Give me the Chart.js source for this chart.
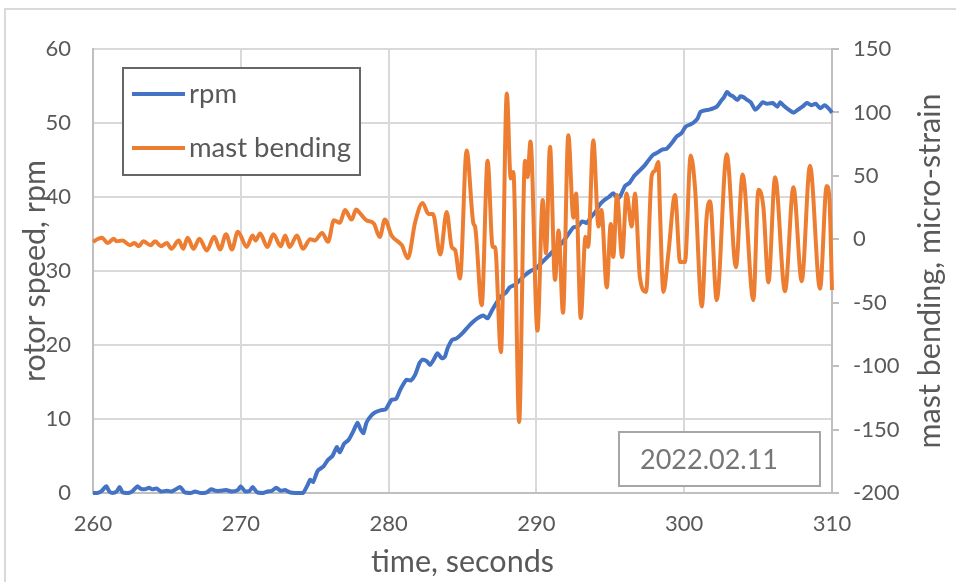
<!DOCTYPE html>
<html><head><meta charset="utf-8">
<script src="https://cdn.jsdelivr.net/npm/chart.js@4.4.1/dist/chart.umd.min.js"></script>
<style>html,body{margin:0;padding:0;background:#fff;overflow:hidden}#wrap{width:956px;height:582px;position:relative}</style>
</head><body><div id="wrap"><canvas id="c" width="956" height="582"></canvas></div>
<script>
// ---- data ----
const seriesNames = ['rpm', 'mast bending'];
const timeTicks = [260, 270, 280, 290, 300, 310];
const rpmTicks = [0, 10, 20, 30, 40, 50, 60];
const strainTicks = [-200, -150, -100, -50, 0, 50, 100, 150];
const dateLabel = '2022.02.11';

const rpmTime = [260,260.3,260.6,260.9,261.1,261.3,261.6,261.8,262,262.4,262.7,263,263.2,263.5,263.8,264,264.3,264.6,265,265.3,265.6,265.9,266.2,266.6,266.9,267.3,267.7,268,268.3,268.6,269,269.4,269.8,270,270.3,270.6,270.8,271.1,271.5,271.8,272.1,272.4,272.7,273,273.3,273.7,274.2,274.5,274.7,274.9,275.2,275.6,275.9,276.2,276.5,276.7,277,277.3,277.6,277.9,278.1,278.3,278.5,278.8,279.1,279.5,279.8,280.2,280.5,280.8,281.2,281.5,281.8,282.1,282.3,282.6,282.8,283.1,283.3,283.6,283.8,284,284.3,284.6,285,285.4,285.7,286,286.4,286.7,287,287.3,287.6,287.9,288.2,288.6,288.9,289.2,289.6,290,290.4,290.8,291.2,291.6,292,292.5,292.8,293.1,293.4,293.7,294,294.3,294.6,294.9,295.2,295.5,295.7,296,296.3,296.6,297,297.3,297.6,297.9,298.2,298.5,298.8,299.2,299.5,299.8,300.1,300.4,300.6,300.9,301.1,301.4,301.7,302,302.2,302.5,302.7,302.9,303.1,303.3,303.6,303.8,304,304.2,304.5,304.8,305,305.3,305.6,306,306.3,306.5,306.7,307,307.4,307.7,308,308.3,308.6,308.9,309.2,309.5,309.8,310];
const rpmValues = [0,0,0.3,0.9,0.2,0,0.2,0.8,0.1,0,0.3,0.9,0.6,0.5,0.7,0.5,0.6,0.2,0.3,0.2,0.5,0.8,0.1,0,0.2,0,0.1,0.5,0.3,0.3,0.4,0.2,0.4,0.9,0.2,0.3,0.8,0.1,0,0.2,0.3,0.7,0.3,0.4,0.1,0,0,1.0,1.8,1.5,3.0,3.6,4.5,5.0,6.2,5.5,6.7,7.2,8.3,9.5,8.6,8.1,9.5,10.4,10.9,11.2,11.3,12.6,12.7,14.0,15.3,15.2,16.0,17.6,18.0,17.8,17.3,18.2,18.9,18.2,18.4,19.6,20.7,20.9,21.6,22.5,23.1,23.6,24.0,23.6,24.7,25.7,26.6,27.0,27.8,28.2,28.8,29.4,30.0,30.4,31.2,32.0,32.8,33.5,34.5,35.9,36.0,36.7,36.5,37.3,38.0,39.0,39.6,40.0,40.5,39.8,40.2,41.5,41.9,42.8,43.6,44.2,45.0,45.7,46.0,46.4,46.5,47.4,48.2,48.6,49.5,49.8,50.0,50.6,51.5,51.7,51.8,52.0,52.2,53.0,53.5,54.2,53.8,53.6,53.1,53.6,53.5,53.2,52.8,51.8,52.1,52.8,52.6,52.7,52.2,52.8,52.4,51.9,51.4,51.8,52.2,52.7,52.4,52.6,52.0,52.4,51.9,51.4];

const strainTime = [260,260.3,260.6,261,261.4,261.6,262,262.5,262.8,263.1,263.4,263.9,264.2,264.6,265,265.3,265.8,266.1,266.4,266.8,267.2,267.7,268.2,268.6,269,269.4,269.8,270.4,270.8,271,271.3,271.8,272.2,272.7,273,273.3,273.8,274.2,274.7,275,275.5,275.9,276.3,276.7,277.05,277.5,277.8,278.1,278.5,279,279.4,279.75,280.2,280.65,280.9,281.3,281.8,282.3,282.7,283,283.5,283.93,284.27,284.5,284.83,285.28,285.74,285.85,286.3,286.7,287.04,287.2,287.6,288,288.26,288.44,288.83,289.23,289.4,289.6,290.07,290.43,290.65,290.92,291.26,291.5,291.8,292.16,292.5,292.68,293,293.32,293.5,293.85,294.2,294.4,294.76,295.03,295.2,295.45,295.8,296.1,296.45,296.67,297,297.42,297.8,298.02,298.25,298.36,298.59,298.93,299.38,299.72,300.05,300.44,300.73,301.19,301.52,301.75,302.2,302.88,303.5,303.95,304.68,305.02,305.36,305.7,306.15,306.82,307.39,307.95,308.51,309.19,309.64,309.82,310];
const strainValues = [-2,0,1.3,-3,0.5,-1.5,-1,-4.7,-3,-5.5,-1.5,-4.7,-1.5,-5.5,-3,-7.5,-1,-7.5,1.3,-7.5,0.5,-8.8,2,-8,4,-8,6,-6,3,-1,4.5,-6,4,-5.5,3,-6,3,-7.5,0,-1,5,-2,15,13,23,15.5,23.4,20,15,12.4,1.8,15.5,3,-2,-4.7,-15,13.6,28.6,20,20,-12,21.5,-6,-8.5,-31,70,12.4,10,-52,62,-6,-6,-89,115,48,53,-144,62,49,77,-72,31,-11,73,-32,7,-58,82,17,36,-62,2,-6,78,10,23,-38,12,-14,35,-14,36,10,36,-30,-41.5,50,54,61,23,-41.5,-11,35,-18,-18,66,41,-53,18,30,-48,67,-22,51,-48,39,25,-34,49,-41,41,-33,58,-39,42,33,-40];

// ---- styling ----
const BLUE = '#4472C4', ORANGE = '#ED7D31';
const TXT = '#595959', GRID = '#d9d9d9', AXIS = '#bfbfbf';
const TITLE_SIZE = 30.5;
Chart.defaults.font.family = 'Lato, Carlito, "Liberation Sans", sans-serif';
Chart.defaults.color = TXT;

const overlay = {
  id: 'overlay',
  beforeDraw(chart) {
    const ctx = chart.ctx;
    ctx.save();
    ctx.fillStyle = '#fff';
    ctx.fillRect(0, 0, chart.width, chart.height);
    ctx.strokeStyle = GRID; ctx.lineWidth = 2;
    ctx.strokeRect(5, 9, chart.width + 20, chart.height + 20);
    ctx.restore();
  },
  afterDraw(chart) {
    const ctx = chart.ctx, a = chart.chartArea;
    ctx.save();
    // right axis title (reads bottom to top)
    ctx.fillStyle = TXT;
    ctx.font = TITLE_SIZE + 'px Lato, Carlito, sans-serif';
    ctx.textAlign = 'center'; ctx.textBaseline = 'middle';
    ctx.translate(a.right + 98, (a.top + a.bottom) / 2);
    ctx.rotate(-Math.PI / 2);
    ctx.fillText('mast bending, micro-strain', 0, 0);
    ctx.restore();

    // legend box
    ctx.save();
    const lx = a.left + 30, ly = a.top + 19, lw = 237, lh = 107;
    ctx.fillStyle = '#fff'; ctx.fillRect(lx, ly, lw, lh);
    ctx.strokeStyle = '#666'; ctx.lineWidth = 2; ctx.strokeRect(lx, ly, lw, lh);
    ctx.font = '27.5px Lato, Carlito, sans-serif';
    ctx.textAlign = 'left'; ctx.textBaseline = 'middle';
    chart.data.datasets.slice().sort((p, q) => p.legendIndex - q.legendIndex).forEach((ds, i) => {
      const yy = ly + 26 + i * 54;
      ctx.strokeStyle = ds.borderColor; ctx.lineWidth = 4;
      ctx.beginPath(); ctx.moveTo(lx + 9, yy); ctx.lineTo(lx + 62, yy); ctx.stroke();
      ctx.fillStyle = TXT; ctx.fillText(ds.label, lx + 66, yy);
    });
    ctx.restore();

    // date box
    ctx.save();
    const dx = a.right - 213, dy = a.bottom - 61, dw = 201, dh = 54;
    ctx.fillStyle = '#fff'; ctx.fillRect(dx, dy, dw, dh);
    ctx.strokeStyle = '#a6a6a6'; ctx.lineWidth = 2; ctx.strokeRect(dx, dy, dw, dh);
    ctx.fillStyle = '#767676';
    ctx.font = '27px Lato, Carlito, sans-serif';
    ctx.textAlign = 'left'; ctx.textBaseline = 'middle';
    ctx.fillText(dateLabel, dx + 21, dy + dh / 2 + 1);
    ctx.restore();
  }
};

const setTicks = arr => scale => { scale.ticks = arr.map(v => ({ value: v })); };

new Chart(document.getElementById('c'), {
  type: 'line',
  data: {
    datasets: [
      {
        label: seriesNames[1], legendIndex: 1, order: 0,
        data: strainTime.map((t, i) => ({ x: t, y: strainValues[i] })),
        yAxisID: 'y2', borderColor: ORANGE, borderWidth: 4,
        pointRadius: 0, cubicInterpolationMode: 'monotone', clip: false
      },
      {
        label: seriesNames[0], legendIndex: 0, order: 1,
        data: rpmTime.map((t, i) => ({ x: t, y: rpmValues[i] })),
        yAxisID: 'y', borderColor: BLUE, borderWidth: 4,
        pointRadius: 0, tension: 0.2, clip: false, borderJoinStyle: 'round'
      }
    ]
  },
  options: {
    responsive: false, animation: false, devicePixelRatio: 1,
    layout: { padding: { top: 49, left: 0, right: 0, bottom: 0 } },
    plugins: { legend: { display: false }, tooltip: { enabled: false } },
    scales: {
      x: {
        type: 'linear', min: 260, max: 310,
        afterBuildTicks: setTicks(timeTicks),
        afterFit: s => { s.height = 89; },
        grid: { color: GRID, lineWidth: 2, drawTicks: false },
        border: { color: AXIS, width: 2 },
        ticks: { font: { size: 22 }, padding: 18, color: TXT, maxRotation: 0 },
        title: { display: true, text: 'time, seconds', color: TXT, font: { size: TITLE_SIZE }, padding: { top: 0, bottom: 2 } }
      },
      y: {
        position: 'left', min: 0, max: 60,
        afterBuildTicks: setTicks(rpmTicks),
        afterFit: s => { s.width = 93; },
        grid: { color: GRID, lineWidth: 2, drawTicks: false },
        border: { color: AXIS, width: 2 },
        ticks: { font: { size: 22 }, padding: 22, color: TXT },
        title: { display: true, text: 'rotor speed, rpm', color: TXT, font: { size: TITLE_SIZE }, padding: { top: 17, bottom: 0 } }
      },
      y2: {
        position: 'right', min: -200, max: 150,
        afterBuildTicks: setTicks(strainTicks),
        afterFit: s => { s.width = 124; },
        grid: { drawOnChartArea: false, drawTicks: true, tickLength: 7, color: AXIS, lineWidth: 2 },
        border: { color: AXIS, width: 2 },
        ticks: { font: { size: 22 }, padding: 14, color: TXT }
      }
    }
  },
  plugins: [overlay]
});
</script>
</body></html>
